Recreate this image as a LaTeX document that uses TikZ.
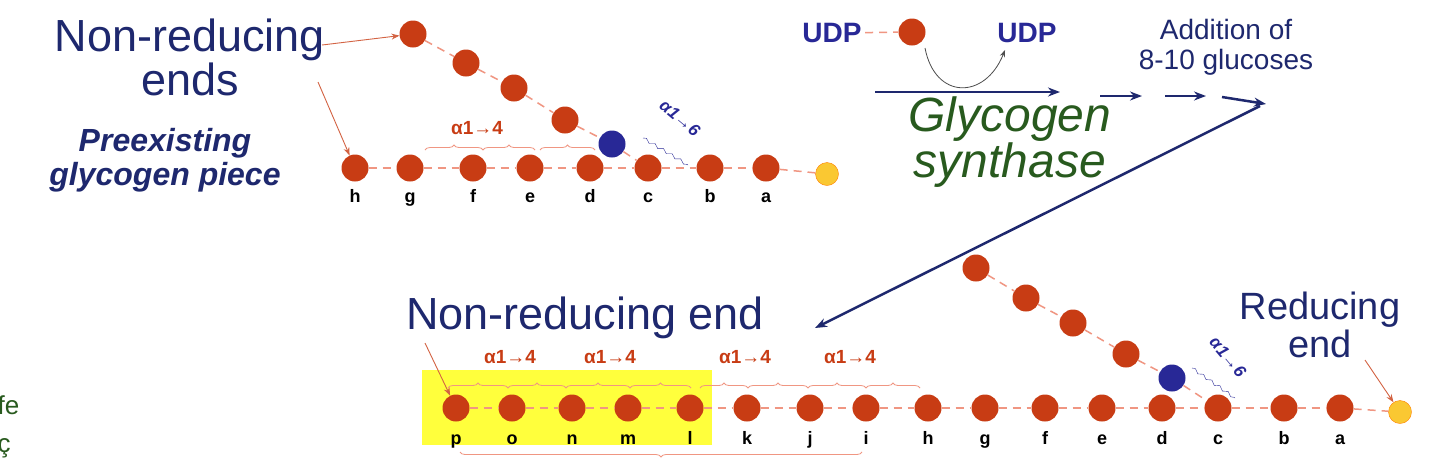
\documentclass[tikz,border=0pt]{standalone}
\usepackage{fontspec}
\setmainfont{Liberation Sans}
\usetikzlibrary{decorations.pathreplacing,decorations.pathmorphing,arrows.meta}
\definecolor{glc}{RGB}{200,60,20}
\definecolor{lnk}{RGB}{240,150,130}
\definecolor{nav}{RGB}{30,40,110}
\definecolor{bl}{RGB}{40,40,150}
\definecolor{gr}{RGB}{40,90,30}
\definecolor{yel}{RGB}{250,200,50}
\definecolor{hl}{RGB}{255,255,60}
\begin{document}
\begin{tikzpicture}[x=1pt,y=-1pt,
  glu/.style={circle,fill=glc,minimum size=27pt,inner sep=0pt},
  bra/.style={circle,fill=bl,minimum size=27pt,inner sep=0pt},
  red/.style={circle,fill=yel,draw=orange,minimum size=23pt,inner sep=0pt},
  bond/.style={lnk,dash pattern=on 8pt off 6pt,line width=1.5pt},
  lab/.style={font=\fontsize{18}{18}\selectfont\bfseries,anchor=base},
  brc/.style={lnk,decorate,decoration={brace,amplitude=5pt},line width=0.8pt},
  a14/.style={glc,font=\fontsize{19}{19}\selectfont\bfseries},
  big/.style={nav,font=\fontsize{45}{44}\selectfont,align=center},
  rarr/.style={-{Stealth[length=8pt]},glc!80,line width=0.9pt},
  narr/.style={-{Stealth[length=12pt]},nav,line width=2.5pt}]
\useasboundingbox[fill=white] (0,0) rectangle (1440,475);
% top chain
\foreach \n/\x in {h/355,g/410,f/473,e/530,d/590,c/648,b/710,a/766}{
  \node[glu] (t\n) at (\x,168) {};
  \node[lab] at (\x,202) {\n};}
\node[red] (tr) at (827,174) {};
\node[glu] (tb1) at (413,34) {};
\node[glu] (tb2) at (466,63) {};
\node[glu] (tb3) at (514,88) {};
\node[glu] (tb4) at (565,120) {};
\node[bra] (tb5) at (612,144) {};
\foreach \u/\v in {th/tg,tg/tf,tf/te,te/td,td/tc,tc/tb,tb/ta,ta/tr,tb1/tb2,tb2/tb3,tb3/tb4,tb4/tb5,tb5/tc}
  \draw[bond] (\u) -- (\v);
\draw[brc] (425,150) -- (483,150);
\draw[brc] (483,150) -- (535,150);
\draw[brc] (540,150) -- (595,150);
\node[a14] at (477,128) {α1→4};
\node[bl,font=\fontsize{17}{17}\selectfont\bfseries\itshape,rotate=-40] at (680,118) {α1→6};
\draw[bl,decorate,decoration={snake,amplitude=1.5pt,segment length=10pt}] (643,138) -- (688,165);
% labels top left
\node[big] (nre) at (190,57) {Non-reducing\\ends};
\node[nav,font=\fontsize{32}{34}\selectfont\bfseries\itshape,align=center] at (165,160) {Preexisting\\glycogen piece};
\draw[rarr] (322,45) -- (tb1);
\draw[rarr] (318,82) -- (th);
% top right
\node[bl,font=\fontsize{28}{28}\selectfont\bfseries] (u1) at (832,33) {UDP};
\node[glu] (ug) at (912,32) {};
\draw[bond] (u1) -- (ug);
\node[bl,font=\fontsize{28}{28}\selectfont\bfseries] (u2) at (1027,33) {UDP};
\coordinate (cs) at (925,48);
\coordinate (ce) at (1005,50);
\draw[-{Stealth[length=7pt]},black!70,line width=0.8pt] (cs) .. controls (935,100) and (985,100) .. (ce);
\node[nav,font=\fontsize{28}{30}\selectfont,align=center] at (1226,47) {Addition of\\8-10 glucoses};
\coordinate (s1) at (875,92); \coordinate (s2) at (1060,92);
\draw[narr,line width=2pt] (s1) -- (s2);
\coordinate (q1) at (1100,96); \coordinate (q2) at (1142,96);
\coordinate (q3) at (1165,96); \coordinate (q4) at (1206,96);
\coordinate (q5) at (1222,97); \coordinate (q6) at (1266,104);
\draw[narr] (q1) -- (q2);
\draw[narr] (q3) -- (q4);
\draw[narr] (q5) -- (q6);
\node[gr,font=\fontsize{48}{42}\selectfont\itshape,align=center] at (1010,142) {Glycogen\\synthase};
\coordinate (ls) at (1260,106); \coordinate (le) at (815,328);
\draw[narr] (ls) -- (le);
% bottom
\fill[hl] (422,370) rectangle (712,445);
\foreach \n/\x in {p/456,o/512,n/572,m/628,l/690,k/747,j/810,i/866,h/928,g/985,f/1045,e/1102,d/1162,c/1218,b/1284,a/1340}{
  \node[glu] (b\n) at (\x,408) {};
  \node[lab] at (\x,444) {\n};}
\node[red] (br) at (1400,412) {};
\node[glu] (bb1) at (976,268) {};
\node[glu] (bb2) at (1026,298) {};
\node[glu] (bb3) at (1073,323) {};
\node[glu] (bb4) at (1126,354) {};
\node[bra] (bb5) at (1172,378) {};
\foreach \u/\v in {bp/bo,bo/bn,bn/bm,bm/bl,bl/bk,bk/bj,bj/bi,bi/bh,bh/bg,bg/bf,bf/be,be/bd,bd/bc,bc/bb,bb/ba,ba/br,bb1/bb2,bb2/bb3,bb3/bb4,bb4/bb5,bb5/bc}
  \draw[bond] (\u) -- (\v);
\foreach \p/\q in {448/508,508/566,566/630,630/691,700/748,748/808,808/866,866/920}
  \draw[brc] (\p,388) -- (\q,388);
\foreach \x in {510,610,745,850} \node[a14] at (\x,357) {α1→4};
\draw[brc] (862,452) -- (460,452);
\node[bl,font=\fontsize{17}{17}\selectfont\bfseries\itshape,rotate=-50] at (1228,357) {α1→6};
\draw[bl,decorate,decoration={snake,amplitude=1.5pt,segment length=10pt}] (1192,368) -- (1235,398);
\node[big] (nr1) at (585,318) {Non-reducing end};
\node[big,font=\fontsize{38}{38}\selectfont] (re) at (1320,325) {Reducing\\end};
\draw[rarr] (425,343) -- (bp);
\draw[rarr] (1365,360) -- (br);
\node[gr,font=\fontsize{26}{26}\selectfont,anchor=west] at (-6,405) {fe};
\node[gr,font=\fontsize{26}{26}\selectfont,anchor=west] at (-6,448) {ç};
\end{tikzpicture}
\end{document}
